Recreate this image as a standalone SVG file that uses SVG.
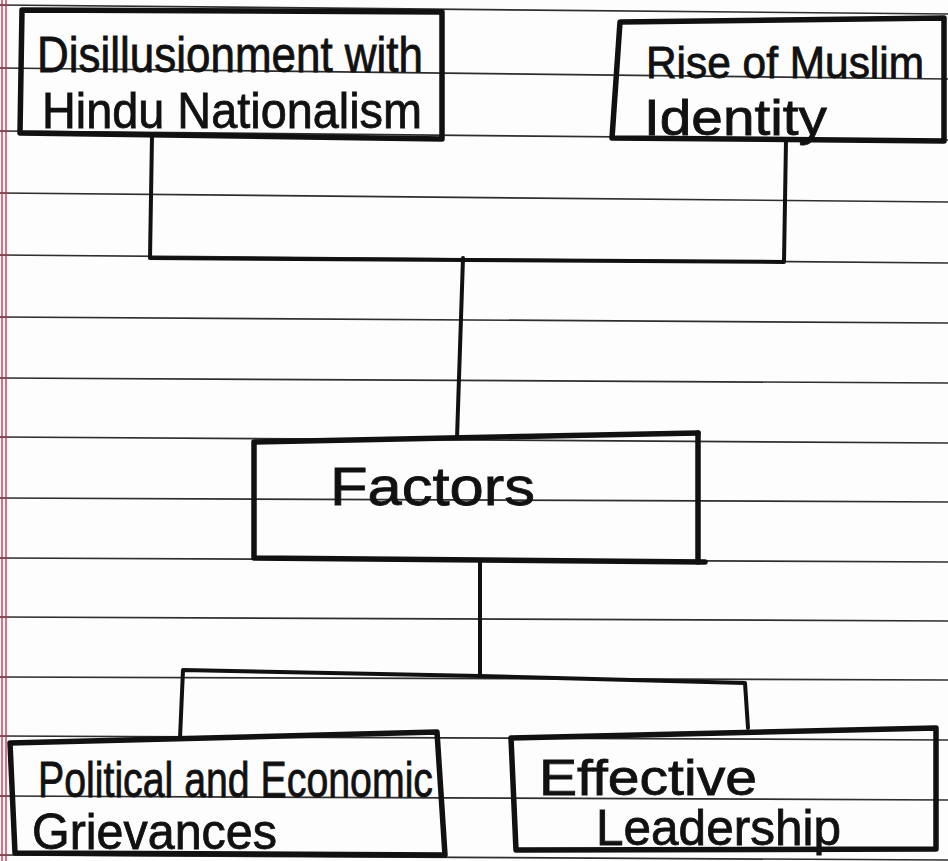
<svg xmlns="http://www.w3.org/2000/svg" width="948" height="861" viewBox="0 0 948 861">
  <style>
    .rule { stroke: #2e2e2e; stroke-width: 1.7; fill: none; }
    .margin { stroke: #d42040; stroke-width: 1.3; fill: none; }
    .box { fill: none; stroke: #111; stroke-width: 5.5; stroke-linejoin: round; stroke-linecap: round; }
    .conn { fill: none; stroke: #111; stroke-width: 4; stroke-linejoin: round; stroke-linecap: round; }
    .hand { font-family: "Liberation Sans", "DejaVu Sans", sans-serif; font-size: 50px; fill: #111; stroke: #111; stroke-width: 0.8; }
  </style>
  <rect x="0" y="0" width="948" height="861" fill="#fdfdfd"/>
  <g id="paper">
    <line class="rule" x1="0" y1="5" x2="948" y2="14"/>
    <line class="rule" x1="0" y1="68" x2="948" y2="79"/>
    <line class="rule" x1="0" y1="131" x2="948" y2="140"/>
    <line class="rule" x1="0" y1="193" x2="948" y2="202"/>
    <line class="rule" x1="0" y1="255" x2="948" y2="263"/>
    <line class="rule" x1="0" y1="317" x2="948" y2="323"/>
    <line class="rule" x1="0" y1="378" x2="948" y2="383"/>
    <line class="rule" x1="0" y1="437" x2="948" y2="443"/>
    <line class="rule" x1="0" y1="498" x2="948" y2="502"/>
    <line class="rule" x1="0" y1="558" x2="948" y2="562"/>
    <line class="rule" x1="0" y1="617" x2="948" y2="621"/>
    <line class="rule" x1="0" y1="677" x2="948" y2="680"/>
    <line class="rule" x1="0" y1="736" x2="948" y2="740"/>
    <line class="rule" x1="0" y1="796" x2="948" y2="800"/>
    <line class="rule" x1="0" y1="855" x2="948" y2="860"/>
    <line class="margin" x1="2" y1="0" x2="2" y2="861"/>
    <line class="margin" x1="6" y1="0" x2="6" y2="861"/>
  </g>
  <g id="connectors">
    <polyline class="conn" points="152,136 150,258 784,262 786,140"/>
    <polyline class="conn" points="463,258 457,438"/>
    <polyline class="conn" points="480,563 480,676"/>
    <polyline class="conn" points="180,738 183,670 480,676 745,683 748,728"/>
  </g>
  <g id="node-disillusionment">
    <polygon class="box" points="22,10 442,12 442,139 20,133"/>
    <text class="hand" x="37" y="72" textLength="386" lengthAdjust="spacingAndGlyphs">Disillusionment with</text>
    <text class="hand" x="42" y="128" textLength="380" lengthAdjust="spacingAndGlyphs">Hindu Nationalism</text>
  </g>
  <g id="node-muslim-identity">
    <polygon class="box" points="620,22 944,18 944,141 612,138"/>
    <text class="hand" x="646" y="78" textLength="278" lengthAdjust="spacingAndGlyphs" style="font-size:44px">Rise of Muslim</text>
    <text class="hand" x="644" y="135" textLength="183" lengthAdjust="spacingAndGlyphs">Identity</text>
  </g>
  <g id="node-factors">
    <polyline class="box" points="698,433 254,442 254,558 705,562"/>
    <line class="box" x1="698" y1="433" x2="698" y2="562"/>
    <text class="hand" x="330" y="505" textLength="205" lengthAdjust="spacingAndGlyphs" style="font-size:54px">Factors</text>
  </g>
  <g id="node-grievances">
    <polygon class="box" points="10,743 437,732 445,855 15,853"/>
    <text class="hand" x="38" y="797" textLength="395" lengthAdjust="spacingAndGlyphs">Political and Economic</text>
    <text class="hand" x="32" y="849" textLength="245" lengthAdjust="spacingAndGlyphs">Grievances</text>
  </g>
  <g id="node-leadership">
    <polygon class="box" points="511,738 936,728 936,849 516,850"/>
    <text class="hand" x="539" y="795" textLength="218" lengthAdjust="spacingAndGlyphs">Effective</text>
    <text class="hand" x="596" y="845" textLength="245" lengthAdjust="spacingAndGlyphs">Leadership</text>
  </g>
</svg>
